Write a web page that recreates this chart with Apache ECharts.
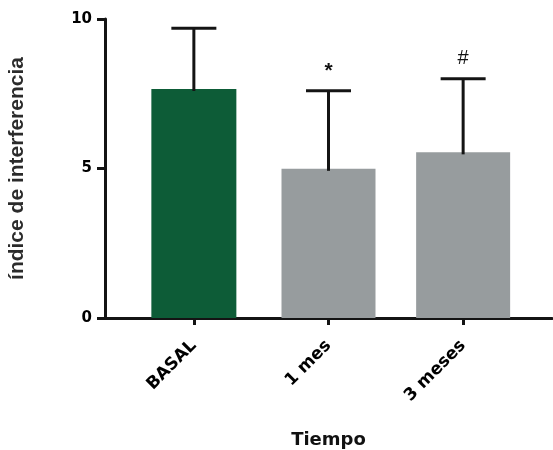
<!DOCTYPE html>
<html>
<head>
<meta charset="utf-8">
<script src="https://cdn.jsdelivr.net/npm/echarts@6/dist/echarts.min.js"></script>
<style>html,body{margin:0;padding:0;background:#fff;}#c{width:553px;height:450px;}</style>
</head>
<body>
<div id="c"></div>
<script>
const categories = ['BASAL', '1 mes', '3 meses'];
const means = [7.66, 4.99, 5.54];
const sd = [2.03, 2.61, 2.46];
const sigLabels = ['', '*', '#'];
const yTicks = [0, 5, 10];

const barColors = ['#0d5c37', '#979c9e', '#979c9e'];
const barWidths = [85, 94, 94];
const capWidth = 45;
const ink = '#141414';

const chart = echarts.init(document.getElementById('c'));
chart.setOption({
  animation: false,
  backgroundColor: '#fff',
  grid: { left: 105, right: 1, top: 19, bottom: 132, containLabel: false, outerBoundsMode: 'none' },
  xAxis: {
    type: 'value', min: -0.66, max: 2.66,
    name: 'Tiempo', nameLocation: 'middle', nameGap: 113,
    nameTextStyle: { fontFamily: 'DejaVu Sans', fontWeight: 'bold', fontSize: 18, color: '#111' },
    axisLine: { show: true, onZero: false, lineStyle: { color: ink, width: 3 } },
    axisTick: { show: true, customValues: [0, 1, 2], length: 7, lineStyle: { color: ink, width: 3 } },
    axisLabel: {
      customValues: [0, 1, 2], rotate: 45, margin: 25,
      formatter: v => categories[Math.round(v)] || '',
      fontFamily: 'DejaVu Sans', fontWeight: 'bold', fontSize: 17, color: '#000'
    },
    splitLine: { show: false }
  },
  yAxis: {
    type: 'value', min: 0, max: 10, interval: 5,
    name: 'índice de interferencia', nameLocation: 'middle', nameGap: 77,
    nameTextStyle: { fontFamily: 'Liberation Sans', fontWeight: 'bold', fontSize: 21, color: '#2b2b2b' },
    axisLine: { show: true, onZero: false, lineStyle: { color: ink, width: 3 } },
    axisTick: { show: true, length: 8, lineStyle: { color: ink, width: 3 } },
    axisLabel: {
      margin: 13, formatter: v => (yTicks.indexOf(v) >= 0 ? String(v) : ''),
      fontFamily: 'DejaVu Sans', fontWeight: 'bold', fontSize: 15, color: '#000'
    },
    splitLine: { show: false }
  },
  series: [
    {
      type: 'custom',
      data: categories.map((c, i) => [i, means[i]]),
      renderItem: function (params, api) {
        const i = params.dataIndex;
        const p0 = api.coord([api.value(0), 0]);
        const p1 = api.coord([api.value(0), api.value(1)]);
        const w = barWidths[i];
        return {
          type: 'rect',
          shape: { x: p0[0] - w / 2, y: p1[1], width: w, height: p0[1] - p1[1] },
          style: { fill: barColors[i] }
        };
      },
      z: 1
    },
    {
      type: 'custom',
      data: categories.map((c, i) => [i, means[i], means[i] + sd[i]]),
      renderItem: function (params, api) {
        const i = params.dataIndex;
        const pm = api.coord([api.value(0), api.value(1)]);
        const pt = api.coord([api.value(0), api.value(2)]);
        const children = [
          { type: 'line', shape: { x1: pt[0], y1: pm[1] + 2, x2: pt[0], y2: pt[1] }, style: { stroke: ink, lineWidth: 3 } },
          { type: 'line', shape: { x1: pt[0] - capWidth / 2, y1: pt[1], x2: pt[0] + capWidth / 2, y2: pt[1] }, style: { stroke: ink, lineWidth: 3 } }
        ];
        if (sigLabels[i]) {
          children.push({
            type: 'text',
            style: {
              text: sigLabels[i], x: pt[0], y: pt[1] - 20,
              align: 'center', verticalAlign: 'middle',
              fontFamily: 'Liberation Sans', fontWeight: sigLabels[i] === '*' ? 'bold' : 'normal',
              fontSize: sigLabels[i] === '*' ? 21 : 20, fill: '#111'
            }
          });
        }
        return { type: 'group', children: children };
      },
      z: 3
    }
  ]
});
</script>
</body>
</html>
